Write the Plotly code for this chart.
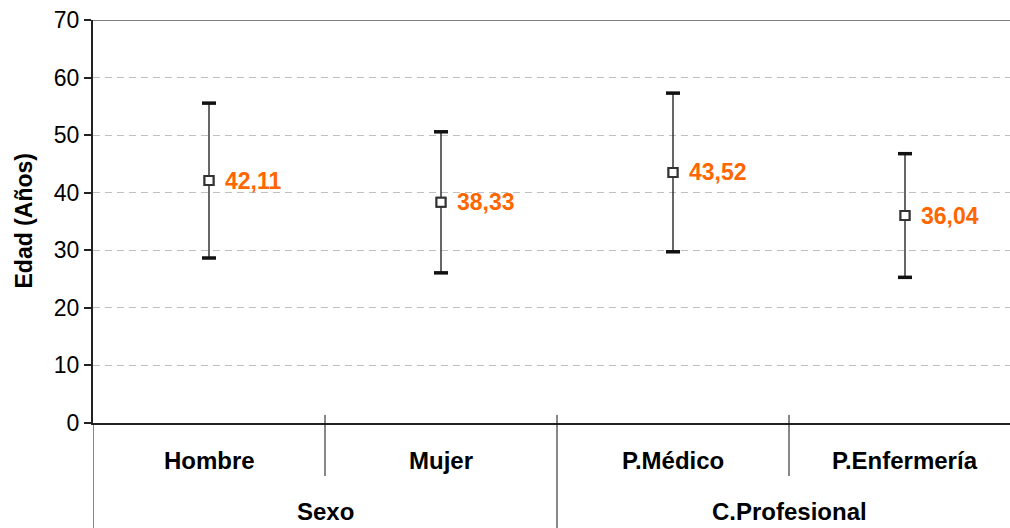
import plotly.graph_objects as go

# Age by group: mean and standard deviation
categories = ["Hombre", "Mujer", "P.Médico", "P.Enfermería"]
groups = ["Sexo", "C.Profesional"]
group_sizes = [2, 2]
means = [42.11, 38.33, 43.52, 36.04]
sd = [13.45, 12.25, 13.78, 10.74]
labels = ["42,11", "38,33", "43,52", "36,04"]
y_ticks = [0, 10, 20, 30, 40, 50, 60, 70]

FONT = "Arial, 'Liberation Sans', sans-serif"
ORANGE = "#ff6600"
x = list(range(len(categories)))
upper = [m + s for m, s in zip(means, sd)]
lower = [m - s for m, s in zip(means, sd)]

fig = go.Figure()

# whiskers
fig.add_trace(go.Scatter(
    x=x, y=means, mode="markers",
    marker=dict(symbol="square-open", size=9, color="#333333",
                line=dict(width=2, color="#333333")),
    error_y=dict(type="data", array=sd, visible=True,
                 thickness=1.2, width=0, color="#000000"),
    showlegend=False, hoverinfo="skip",
))
# caps at mean ± sd
fig.add_trace(go.Scatter(
    x=x + x, y=upper + lower, mode="markers",
    marker=dict(symbol="line-ew", size=10,
                line=dict(width=3.5, color="#111111")),
    showlegend=False, hoverinfo="skip",
))
# mean markers drawn on top of the whiskers
fig.add_trace(go.Scatter(
    x=x, y=means, mode="markers",
    marker=dict(symbol="square", size=9, color="white",
                line=dict(width=2, color="#333333")),
    showlegend=False, hoverinfo="skip",
))

annotations = []
for xi, m, t in zip(x, means, labels):
    annotations.append(dict(
        x=xi, y=m, xref="x", yref="y", text=f"<b>{t}</b>",
        showarrow=False, xanchor="left", yanchor="middle", xshift=14,
        font=dict(family=FONT, size=23, color=ORANGE),
    ))

# category and group labels below the axis
for xi, c in zip(x, categories):
    annotations.append(dict(
        x=xi, y=-0.092, xref="x", yref="paper", text=f"<b>{c}</b>",
        showarrow=False, xanchor="center", yanchor="middle",
        font=dict(family=FONT, size=24, color="black"),
    ))

shapes = []
start = 0
for g, n in zip(groups, group_sizes):
    centre = start + (n - 1) / 2
    annotations.append(dict(
        x=centre, y=-0.22, xref="x", yref="paper", text=f"<b>{g}</b>",
        showarrow=False, xanchor="center", yanchor="middle",
        font=dict(family=FONT, size=24, color="black"),
    ))
    # group boundary (full height)
    shapes.append(dict(type="line", xref="x", yref="paper",
                       x0=start - 0.5, x1=start - 0.5,
                       y0=0.02 if start > 0 else 0, y1=-0.27,
                       line=dict(color="#111111", width=1)))
    # category boundaries inside the group
    for k in range(1, n):
        shapes.append(dict(type="line", xref="x", yref="paper",
                           x0=start + k - 0.5, x1=start + k - 0.5,
                           y0=0.02, y1=-0.1315,
                           line=dict(color="#111111", width=1)))
    start += n
shapes.append(dict(type="line", xref="x", yref="paper",
                   x0=start - 0.5, x1=start - 0.5, y0=0.02, y1=-0.27,
                   line=dict(color="#111111", width=1)))

# top border at 70
shapes.append(dict(type="line", xref="paper", yref="y",
                   x0=0, x1=1, y0=70, y1=70,
                   line=dict(color="#808080", width=2)))

# y axis title
annotations.append(dict(
    x=(23 - 93) / 917, y=0.5, xref="paper", yref="paper", xanchor="center",
    yanchor="middle", text="<b>Edad (Años)</b>", textangle=-90,
    showarrow=False, font=dict(family=FONT, size=23, color="black"),
))

fig.update_layout(
    width=1010, height=528,
    margin=dict(l=93, r=0, t=20, b=105),
    plot_bgcolor="white", paper_bgcolor="white",
    font=dict(family=FONT, size=23, color="black"),
    annotations=annotations, shapes=shapes,
    showlegend=False,
)
fig.update_xaxes(
    range=[-0.5, -0.5 + 917 / 232], showgrid=False, zeroline=False,
    showticklabels=False, ticks="", showline=True, linecolor="#222222",
    linewidth=2,
)
fig.update_yaxes(
    range=[0, 70], tickvals=y_ticks, showgrid=True, gridcolor="#c0c0c0",
    griddash="7px,5px", gridwidth=1, zeroline=False,
    showline=True, linecolor="#222222", linewidth=2,
    ticks="outside", ticklen=7, tickwidth=1.5, tickcolor="#222222",
    tickfont=dict(family=FONT, size=23, color="black"),
)

fig.write_html("out.html")
